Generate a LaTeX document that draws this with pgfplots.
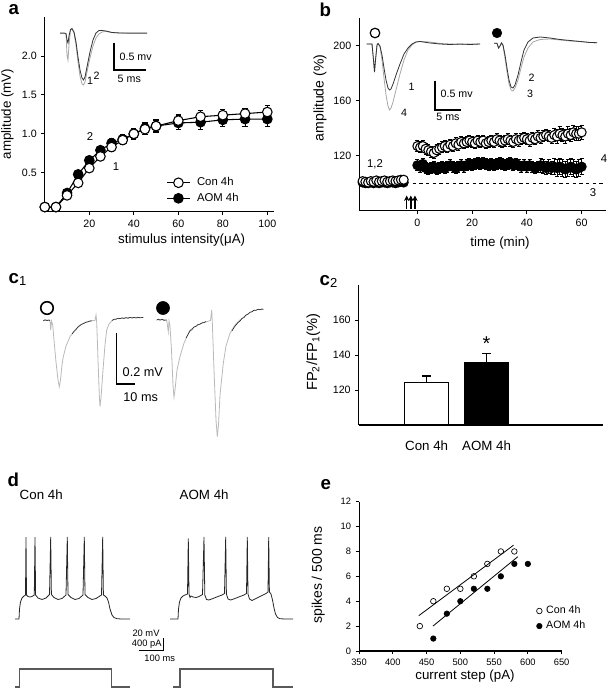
\documentclass[border=0pt]{standalone}
\usepackage{fontspec}
\setmainfont{Liberation Sans}
\usepackage{pgfplots}
\pgfplotsset{compat=1.18}
\usepackage{pgfplotstable}
\usetikzlibrary{arrows.meta}
\newcommand{\fs}[1]{\fontsize{#1}{#1}\selectfont}
\pgfplotsset{panel/.style={scale only axis, anchor=south west, axis lines=left,
  axis line style={-, line width=0.8pt}, tick align=outside, major tick length=2.5pt,
  tick style={line width=0.7pt, black}, /pgf/number format/assume math mode=true, clip=false}}

\pgfplotstableread{
x y e
0 0.06 0.01
5 0.06 0.01
10 0.21 0.02
15 0.37 0.03
20 0.56 0.04
25 0.71 0.04
30 0.83 0.05
35 0.92 0.06
40 1.00 0.06
45 1.06 0.07
50 1.10 0.07
60 1.17 0.08
70 1.22 0.08
80 1.24 0.07
90 1.26 0.07
100 1.28 0.08
}\acon
\pgfplotstableread{
x y e
0 0.06 0.01
5 0.06 0.01
10 0.24 0.02
15 0.48 0.03
20 0.66 0.04
25 0.79 0.05
30 0.88 0.06
35 0.93 0.06
40 1.00 0.07
45 1.07 0.08
50 1.10 0.08
60 1.14 0.09
70 1.15 0.09
80 1.18 0.09
90 1.19 0.09
100 1.19 0.09
}\aaom

\pgfplotstableread{
t y e
-20 101.5 1.5
-19 101 1.5
-18 100.5 1.5
-17 101.5 1.5
-16 101 1.5
-15 102 1.5
-14 101 1.5
-13 101.5 1.5
-12 102 1.5
-11 101 1.5
-10 101.5 1.5
-9 102 1.5
-8 101.5 1.5
-7 102 1.5
-6 102.5 1.5
-5 102.5 1.5
0 127 4
1 126 4
2 127 4
3 125 4
4 124 4
5 123 4
6 122 4
7 124 4
8 125 4
9 126 4
10 127 4
11 126 4
12 128 4
13 127 4
14 129 4
15 128 4
16 130 4
17 129 4
18 130 4
19 131 4
20 130 4
21 129 4
22 131 4
23 130 4
24 131 4
25 129 4
26 130 4
27 131 4
28 130 4
29 132 4
30 131 4
31 130 4
32 131 4
33 132 4
34 131 4
35 130 4
36 132 4
37 131 4
38 132 4
39 133 4
40 132 4
41 131 4
42 133 4
43 132 4
44 134 4
45 133 4
46 134 4
47 135 4
48 134 4
49 133 4
50 135 5
51 134 5
52 136 5
53 135 5
54 134 5
55 136 5
56 135 5
57 137 5
58 136 5
59 136 5
60 137 5
}\bcon
\pgfplotstableread{
t y e
-20 100.5 1.5
-19 100 1.5
-18 100 1.5
-17 100.5 1.5
-16 100 1.5
-15 100.5 1.5
-14 100 1.5
-13 100.5 1.5
-12 100.5 1.5
-11 100 1.5
-10 100.5 1.5
-9 100.5 1.5
-8 100 1.5
-7 100.5 1.5
-6 101 1.5
-5 100.5 1.5
0 113 4
1 112 4
2 114 4
3 111 4
4 110 4
5 111 4
6 112 4
7 110 4
8 111 4
9 112 4
10 111 4
11 112 4
12 113 4
13 112 4
14 111 4
15 112 4
16 113 4
17 112 4
18 113 4
19 114 4
20 113 4
21 114 4
22 115 4
23 114 4
24 115 4
25 114 4
26 113 4
27 114 4
28 113 4
29 114 4
30 115 4
31 114 4
32 113 4
33 114 4
34 115 4
35 113 4
36 114 4
37 113 4
38 112 4
39 113 4
40 112 4
41 113 4
42 112 4
43 111 4
44 112 4
45 113 5
46 112 5
47 111 5
48 112 5
49 111 5
50 112 6
51 111 6
52 112 6
53 111 6
54 110 6
55 111 6
56 112 6
57 111 6
58 110 6
59 111 6
60 112 6
}\baom

\begin{document}
\begin{tikzpicture}
\path[use as bounding box] (0,0) rectangle (456.75pt,519pt);

% ---------- panel a ----------
\begin{axis}[panel, at={(33.6pt,360.2pt)}, width=171.9pt, height=146pt,
  xmin=0, xmax=103, ymin=0, ymax=2.5,
  xtick={20,40,60,80,100}, ytick={0.5,1,1.5,2},
  yticklabel style={/pgf/number format/.cd, fixed, fixed zerofill, precision=1},
  tick label style={font=\fs{8}},
  reverse legend, legend cell align=left,
  legend style={at={(axis description cs:0.53,0.19)}, anchor=north west, draw=none, fill=none,
    font=\fs{8.5}, inner sep=0pt, row sep=0pt, column sep=3pt},
  error bars/error bar style={line width=0.7pt, black},
  error bars/error mark options={rotate=90, mark size=2pt, line width=0.7pt, black}]
\addplot[black, line width=0.8pt, mark=*, mark size=3.6pt, mark options={fill=black, line width=0.8pt},
  error bars/.cd, y dir=both, y explicit] table[x=x, y=y, y error=e] {\aaom};
\addlegendentry{AOM 4h}
\addplot[black, line width=0.8pt, mark=*, mark size=3.6pt, mark options={fill=white, line width=0.8pt},
  error bars/.cd, y dir=both, y explicit] table[x=x, y=y, y error=e] {\acon};
\addlegendentry{Con 4h}
\end{axis}

% ---------- panel b ----------
\begin{axis}[panel, at={(269.5pt,361pt)}, width=185pt, height=144.3pt,
  xmin=-21.2, xmax=68.9, ymin=80, ymax=220,
  xtick={0,20,40,60}, ytick={120,160,200},
  tick label style={font=\fs{8}},
  error bars/error bar style={line width=0.7pt, black},
  error bars/error mark options={rotate=90, mark size=1.5pt, line width=0.7pt, black}]
\addplot[black, line width=0.9pt, dash pattern=on 2.5pt off 2.5pt] coordinates {(-1.7,100) (68.9,100)};
\addplot[-{Stealth[length=4pt,width=4pt]}, line width=1.2pt] coordinates {(-3.9,81.5) (-3.9,91)};
\addplot[-{Stealth[length=4pt,width=4pt]}, line width=1.2pt] coordinates {(-2.4,81.5) (-2.4,91)};
\addplot[-{Stealth[length=4pt,width=4pt]}, line width=1.2pt] coordinates {(-0.9,81.5) (-0.9,91)};
\addplot[black, only marks, mark=*, mark size=3.4pt, mark options={fill=black, line width=0.8pt},
  error bars/.cd, y dir=both, y explicit] table[x=t, y=y, y error=e] {\baom};
\addplot[black, only marks, mark=*, mark size=3.4pt, mark options={fill=white, line width=0.8pt},
  error bars/.cd, y dir=both, y explicit] table[x=t, y=y, y error=e] {\bcon};
\end{axis}

% ---------- panel c2 ----------
\begin{axis}[panel, clip=true, at={(269pt,200.25pt)}, width=183.2pt, height=105pt,
  xmin=-1.133, xmax=2.94, ymin=100, ymax=180,
  xtick={0,1}, xticklabels={Con 4h, AOM 4h}, x tick style={draw=none},
  ytick={120,140,160},
  yticklabel style={font=\fs{8}}, xticklabel style={font=\fs{10}, yshift=-6pt},
  error bars/error bar style={line width=0.8pt, black},
  error bars/error mark options={rotate=90, mark size=3.5pt, line width=0.8pt, black}]
\addplot[ybar, bar width=32.5pt, bar shift=0pt, fill=white, draw=black, line width=0.8pt,
  error bars/.cd, y dir=plus, y explicit] coordinates {(0,124.2) +- (0,3.8)};
\addplot[ybar, bar width=32.5pt, bar shift=0pt, fill=black, draw=black, line width=0.8pt,
  error bars/.cd, y dir=plus, y explicit] coordinates {(1,135.8) +- (0,5.2)};
\node[anchor=base, font=\fs{15}] at (axis cs:1,142.4) {*};
\end{axis}

% ---------- panel e ----------
\begin{axis}[panel, at={(269.3pt,30.75pt)}, width=151.9pt, height=112pt,
  xmin=350, xmax=650, ymin=0, ymax=12,
  xtick={350,400,450,500,550,600,650}, ytick={0,2,4,6,8,10,12},
  tick label style={font=\fs{7}},
  legend cell align=left,
  legend style={at={(axis description cs:0.875,0.32)}, anchor=north west, draw=none, fill=none,
    font=\fs{8}, inner sep=0pt, row sep=0pt, column sep=1pt}]
\addplot[black, only marks, mark=o, mark size=2.1pt, mark options={line width=0.5pt}]
  coordinates {(440,2) (460,4) (480,5) (500,5) (520,6) (540,7) (560,8) (580,8)};
\addlegendentry{Con 4h}
\addplot[black, only marks, mark=*, mark size=2.1pt]
  coordinates {(460,1) (480,3) (500,4) (520,5) (540,5) (560,6) (580,7) (600,7)};
\addlegendentry{AOM 4h}
\addplot[black, line width=0.6pt, forget plot] coordinates {(438.5,2.84) (578.8,8.5)};
\addplot[black, line width=0.6pt, forget plot] coordinates {(459.4,2.0) (585.2,7.58)};
\end{axis}

% ---------- canvas (pixel coordinates) ----------
\begin{axis}[at={(0pt,0pt)}, anchor=south west, scale only axis, width=456.75pt, height=519pt,
  xmin=0, xmax=609, ymin=0, ymax=692, y dir=reverse, hide axis, clip=false]
% axis titles
\node[font=\fs{10}] at (181.7,240) {stimulus intensity(μA)};
\node[rotate=90, font=\fs{10}] at (7.5,114) {amplitude (mV)};
\node[font=\fs{10}] at (500,242.7) {time (min)};
\node[rotate=90, font=\fs{10.5}] at (320,98) {amplitude (\%)};
\node[rotate=90, font=\fs{11}] at (313.3,352.3) {FP\textsubscript{2}/FP\textsubscript{1}(\%)};
\node[rotate=90, font=\fs{10.5}] at (318.3,575) {spikes / 500 ms};
\node[font=\fs{10}] at (465,676) {current step (pA)};
% panel letters
\node[anchor=base west, font=\bfseries\fs{14}] at (4,15) {a};
\node[anchor=base west, font=\bfseries\fs{14}] at (315,16.7) {b};
\node[anchor=base west, font=\fs{14}] at (4,283) {\textbf{c}\textsubscript{1}};
\node[anchor=base west, font=\fs{14}] at (315,285) {\textbf{c}\textsubscript{2}};
\node[anchor=base west, font=\bfseries\fs{14}] at (3,486) {d};
\node[anchor=base west, font=\bfseries\fs{14}] at (316,489.3) {e};

% panel a inset traces
\addplot[gray!70, line width=0.6pt] coordinates {(60,33.5)(64,33.5)(66,34)(67,55)(68,60)(69,45)(70.5,30)(72,29)(74,33)(76,45)(78,62)(80,76)(82,84)(83.5,85)(85,82)(87,72)(90,58)(93,46)(96,38)(99,34)(102,32)(106,31.5)(112,32.5)(120,33)(130,33.5)(147,33.5)};
\addplot[black!80, line width=0.6pt] coordinates {(60,33)(64,33)(66,33.5)(67,40)(68,43)(69,36)(70.5,29.5)(72,28.5)(74,32)(76,42)(78,57)(80,70)(82,78)(83.5,80)(85,77)(87,67)(90,52)(93,40)(96,33)(99,30.5)(102,30.5)(106,31)(112,32.5)(120,33)(130,33)(147,33)};
\addplot[black, line width=0.8pt] coordinates {(114,43)(114,70)(146,70)};
\node[anchor=west, font=\fs{8}] at (115,57.3) {0.5 mv};
\node[anchor=center, font=\fs{8}] at (129.3,78.7) {5 ms};
\node[font=\fs{8}] at (96.7,76) {2};
\node[font=\fs{8}] at (90,80.5) {1};
\node[font=\fs{8.5}] at (90,137) {2};
\node[font=\fs{8.5}] at (116,167) {1};

% panel b insets
\addplot[only marks, mark=*, mark size=3.6pt, mark options={fill=white, draw=black, line width=0.9pt}] coordinates {(375,33)};
\addplot[only marks, mark=*, mark size=3.6pt, mark options={fill=black, draw=black}] coordinates {(497,33)};
\addplot[gray!70, line width=0.6pt] coordinates {(366.7,44)(372,44)(373.5,60)(374.5,72)(375.5,60)(377,45)(378,43.5)(380,47)(382,60)(384,78)(386,95)(388,106)(389.5,110)(391,108)(393,102)(396,90)(400,74)(404,60)(408,50)(412,45)(416,42)(420,41.5)(430,42)(440,43.5)(450,44)(460,44.5)(470,44)(480,44)};
\addplot[black!80, line width=0.6pt] coordinates {(366.7,44)(372,44)(373.5,60)(374.5,72)(375.5,60)(377,45)(378,43.5)(380,46)(382,55)(384,68)(386,80)(388,88)(389.5,90)(391,89)(393,84)(396,75)(400,64)(404,54)(408,48)(412,44)(416,42)(420,41.5)(430,43)(440,44)(450,44.5)(460,44)(470,44.5)(480,44)};
\addplot[gray!70, line width=0.6pt] coordinates {(494,43.3)(497,43.3)(498.5,48)(500,46)(501.5,43)(503,46)(505,58)(507,72)(509,84)(511,90)(513,91)(515,88)(518,80)(521,68)(524,57)(528,48)(533,42)(540,39.5)(550,39)(560,40)(570,41)(580,41.5)(590,42.5)(597,42.7)};
\addplot[black!80, line width=0.6pt] coordinates {(494,43.3)(497,43.3)(498.5,48)(500,46)(501.5,43)(503,45)(505,55)(507,68)(509,80)(511,87)(513,88)(515,85)(518,75)(521,62)(524,50)(528,42)(533,38)(540,37)(550,38)(560,39.5)(570,40.5)(580,41.5)(590,42.5)(597,42.7)};
\addplot[black, line width=0.8pt] coordinates {(435,81)(435,110)(461,110)};
\node[anchor=west, font=\fs{8}] at (436,94.3) {0.5 mv};
\node[anchor=center, font=\fs{8}] at (448,117) {5 ms};
\node[font=\fs{8}] at (411.7,86.7) {1};
\node[font=\fs{8}] at (404,113.3) {4};
\node[font=\fs{8}] at (531.7,77.3) {2};
\node[font=\fs{8}] at (530,94.3) {3};
\node[font=\fs{8.5}] at (375,164) {1,2};
\node[font=\fs{8.5}] at (604,159) {4};
\node[font=\fs{8.5}] at (593,193) {3};

% panel c1
\addplot[only marks, mark=*, mark size=4.7pt, mark options={fill=white, draw=black, line width=1.2pt}] coordinates {(47,308)};
\addplot[only marks, mark=*, mark size=4.9pt, mark options={fill=black, draw=black}] coordinates {(163,308)};
\addplot[gray!55, line width=0.6pt] coordinates {(43.3,320.7)(47,320)(50,320.7)(50.7,330)(51.5,321)(52.7,325)(54,340)(56,362)(58,380)(59.3,386.7)(60.5,380)(62,365)(63.3,356.7)(66,346)(70,336.7)(75,330)(80,325)(85,322.5)(91.7,320.7)(95,320.5)(96,315)(96.7,322)(98,360)(99.3,395)(100,406.7)(101,398)(103,370)(105,345)(106.7,330)(109,324)(113.3,319.3)(118,318.5)(124,318)(130,317.5)(136,317.8)(143.3,317.3)};
\addplot[black!85, line width=0.45pt] coordinates {(43.3,320.7)(45,319.8)(47,320.6)(49,319.9)(50,320.7)};
\addplot[black!85, line width=0.45pt] coordinates {(72,334)(74,331.5)(76,329.5)(78,327)(80,325.5)(82,324.2)(84,323.4)(86,322.3)(88,321.8)(90,321)(92,320.9)};
\addplot[black!85, line width=0.45pt] coordinates {(112,320.5)(114,319.4)(116,319.3)(118,318.2)(120,318.7)(122,317.9)(124,318.5)(126,317.6)(128,318.3)(130,317.4)(132,318.1)(134,317.3)(136,318)(138,317.2)(140,317.9)(143.3,317.3)};
\addplot[gray!55, line width=0.6pt] coordinates {(156.7,320)(160,319.5)(166.7,320)(168.3,331.7)(169,321)(170,326)(171.5,350)(173,385)(174,397.3)(175,390)(177,370)(180,356.7)(184,343)(190,330)(196,326)(201,323.5)(206.7,321.7)(210.5,320.5)(211.7,310)(212.3,322)(214,370)(216,420)(217.3,436.7)(218.5,425)(220,395)(223.3,363.3)(226,346)(230,333.3)(235,325)(240,320)(245,316)(250,312.5)(253.3,310.7)(258,309.5)(263.3,309.3)};
\addplot[black!85, line width=0.45pt] coordinates {(156.7,320)(158.5,319.2)(160,320.2)(162,319.3)(164,320.3)(166.7,320)};
\addplot[black!85, line width=0.45pt] coordinates {(186,338)(188,334.5)(190,331)(192,329.5)(194,327)(196,326.4)(198,324.5)(200,324.2)(202,322.8)(204,322.6)(206,321.5)};
\addplot[black!85, line width=0.45pt] coordinates {(232,331)(234,327.5)(236,325)(238,322.5)(240,321)(242,318.5)(244,317.5)(246,315)(248,314.2)(250,312.3)(252,311.8)(254,310.2)(256,310.4)(258,309.2)(260,309.9)(262,308.9)(263.3,309.5)};
\addplot[black, line width=0.8pt] coordinates {(116.7,332.7)(116.7,384)(135,384)};
\node[anchor=west, font=\fs{9.5}] at (118,371.7) {0.2 mV};
\node[anchor=center, font=\fs{9.5}] at (140.7,396.7) {10 ms};

% panel d
\node[anchor=base west, font=\fs{10}] at (15,499) {Con 4h};
\node[anchor=base west, font=\fs{10}] at (175,499) {AOM 4h};
\addplot[black!85, line width=0.6pt] coordinates {(15,619)(19,619)(19.5,609)(20.5,602)(22,598)(24,596)(25.5,595)(26,537)(26.5,595)(28,596.5)(30,597)(32,596.5)(34.3,595)(35,537)(35.6,595)(38,598)(42,599.5)(46,598)(49.5,594.5)(50.7,537)(51.4,594.5)(54,597.5)(58,599.5)(62,598.5)(66,595)(67.3,537)(68,594.5)(71,597.5)(75,599.5)(79,598.5)(83,595)(84.3,537)(85,594.5)(88,597.5)(92,599.5)(96,598.5)(101.5,595)(102.7,537)(103.4,595)(105,596)(107,598)(108.5,602)(110,609)(112,615)(114,617.5)(117,618.7)(122,619)(130,619)};
\addplot[black!85, line width=0.6pt] coordinates {(170,619)(178,619)(178.5,609)(179.5,602)(181,598)(183,596)(185,595)(187.5,594)(188.3,538.5)(189,594)(190,597.5)(191,596)(193,597)(196,597.5)(199,596.5)(202.5,594.5)(204,537)(204.8,595)(206.5,599.5)(209,600)(213,598.5)(218,596.5)(222,595)(224.5,593.5)(225.7,537)(226.4,594)(228,599)(230.5,600)(235,598.5)(240,596.5)(244,595)(246.5,593.5)(247.3,537)(248,594)(249.5,599)(252,600.5)(257,598)(262,595.5)(266,593.5)(268,592)(268.7,537)(269.4,592)(271,594)(272.5,600)(274,608)(275.5,614)(277.5,617.5)(280,618.7)(285,619)(293,619)};
\addplot[black!65, line width=0.8pt] coordinates {(15,687)(19.3,687)(19.3,669)(111.7,669)(111.7,687)(130,687)};
\addplot[black!65, line width=0.8pt] coordinates {(173,687)(180,687)(180,669)(273,669)(273,687)(293,687)};
\addplot[black, line width=0.6pt] coordinates {(139.3,650)(163.3,650)(163.3,638.3)};
\node[anchor=center, font=\fs{7}] at (146,633.3) {20 mV};
\node[anchor=center, font=\fs{7}] at (146.7,644) {400 pA};
\node[anchor=center, font=\fs{7}] at (159.7,658.3) {100 ms};
\end{axis}
\end{tikzpicture}
\end{document}
